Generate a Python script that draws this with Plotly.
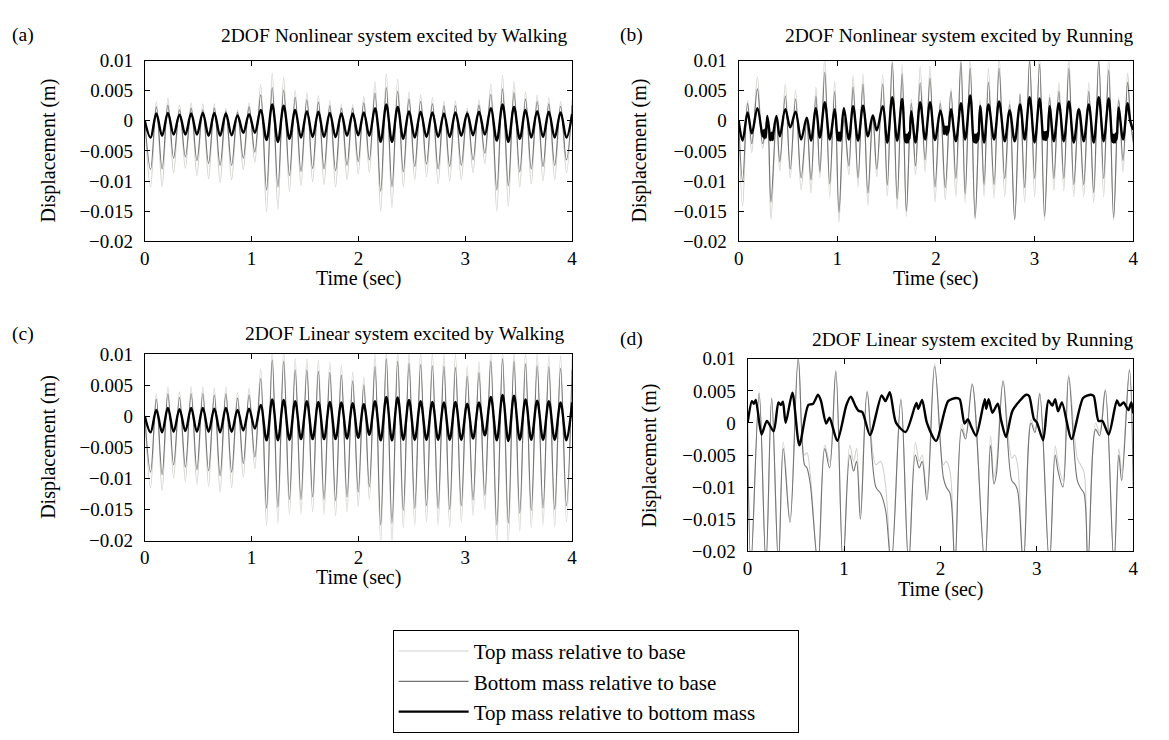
import plotly.graph_objects as go

# ---------------- data (displacements in mm, times in s) ----------------
# walking excitation: times of successive troughs / peaks (shared by panels a and c)
walk_trough_t = [0.054, 0.162, 0.270, 0.380, 0.488, 0.597, 0.705, 0.813, 0.922, 1.030,
                 1.140, 1.246, 1.354, 1.462, 1.571, 1.678, 1.786, 1.893, 1.998, 2.102,
                 2.208, 2.314, 2.420, 2.527, 2.637, 2.746, 2.854, 2.963, 3.073, 3.183,
                 3.295, 3.403, 3.510, 3.618, 3.728, 3.837, 3.947]
walk_peak_t = [0.108, 0.216, 0.325, 0.434, 0.543, 0.651, 0.759, 0.868, 0.976, 1.085,
               1.193, 1.300, 1.408, 1.517, 1.625, 1.732, 1.840, 1.946, 2.050, 2.155,
               2.261, 2.367, 2.473, 2.582, 2.692, 2.800, 2.908, 3.018, 3.128, 3.239,
               3.349, 3.456, 3.564, 3.673, 3.782, 3.892, 4.000]

# (a) nonlinear / walking
a_top_trough = [-11.0, -11.0, -8.6, -7.9, -9.1, -9.6, -10.3, -9.8, -8.1, -6.9,
                -15.1, -14.7, -11.7, -10.8, -10.1, -10.6, -11.0, -9.8, -8.9, -8.6,
                -15.1, -14.4, -11.0, -9.8, -9.3, -10.5, -10.0, -9.8, -8.6, -7.1,
                -15.0, -14.2, -11.0, -10.5, -10.0, -9.8, -8.6]
a_top_peak = [3.2, 3.8, 2.6, 3.0, 2.8, 2.8, 2.1, 1.8, 3.0, 6.0,
              7.9, 7.2, 5.0, 4.7, 4.2, 3.4, 2.8, 2.7, 4.0, 6.5,
              7.8, 6.9, 4.8, 4.3, 3.8, 3.3, 3.3, 2.1, 3.5, 6.1,
              7.5, 6.5, 4.8, 4.3, 3.8, 3.2, 3.5]
a_bot_trough = [-8.1, -8.0, -6.2, -6.0, -6.6, -7.1, -7.4, -7.4, -6.2, -5.2,
                -11.5, -11.0, -9.1, -8.4, -7.9, -8.0, -8.3, -7.4, -6.8, -6.5,
                -11.7, -11.0, -8.5, -7.6, -7.2, -8.0, -7.6, -7.4, -6.5, -5.4,
                -11.5, -10.8, -8.5, -8.0, -7.6, -7.4, -6.5]
a_bot_peak = [2.3, 2.6, 1.8, 2.1, 1.8, 2.1, 1.6, 1.4, 2.3, 4.3,
              5.5, 5.1, 3.9, 3.5, 3.1, 2.5, 2.1, 2.1, 3.0, 4.6,
              5.5, 4.9, 3.6, 3.2, 2.8, 2.5, 2.5, 1.6, 2.6, 4.4,
              5.3, 4.7, 3.6, 3.2, 2.8, 2.4, 2.6]
a_rel_trough = [-2.8, -2.5, -2.3, -2.3, -2.3, -2.5, -2.5, -2.4, -2.0, -2.0,
                -3.2, -3.5, -3.0, -2.8, -2.7, -2.7, -2.7, -2.5, -2.4, -2.5,
                -3.5, -3.5, -3.0, -2.8, -2.7, -2.7, -2.7, -2.5, -2.4, -2.3,
                -3.3, -3.5, -3.0, -2.8, -2.7, -2.8, -2.8]
a_rel_peak = [1.2, 1.3, 1.0, 1.2, 1.3, 1.3, 1.2, 0.9, 1.1, 1.8,
              2.7, 2.5, 1.8, 1.6, 1.5, 1.3, 1.2, 1.2, 1.4, 2.1,
              2.7, 2.3, 1.6, 1.5, 1.4, 1.2, 1.4, 1.2, 1.5, 2.1,
              2.7, 2.3, 1.8, 1.6, 1.5, 1.4, 1.1]

# (c) linear / walking
c_top_trough = [-11.5, -12.0, -10.0, -10.5, -11.0, -11.3, -12.3, -11.5, -9.8, -8.5,
                -17.5, -17.2, -15.8, -15.8, -15.4, -15.8, -16.0, -15.4, -14.5, -13.5,
                -20.5, -20.5, -18.0, -17.5, -17.0, -17.5, -17.8, -17.0, -16.0, -15.0,
                -20.5, -20.5, -18.5, -18.0, -17.5, -17.8, -17.0]
c_top_peak = [3.6, 4.7, 3.9, 4.7, 4.7, 4.5, 4.7, 3.8, 4.5, 7.6,
              10.5, 10.5, 9.2, 9.2, 9.0, 8.7, 8.2, 7.1, 6.3, 10.0,
              10.5, 10.5, 10.4, 10.3, 10.2, 10.1, 10.0, 8.0, 8.8, 10.5,
              10.5, 10.5, 10.3, 10.1, 9.8, 9.7, 9.5]
c_bot_trough = [-9.0, -9.4, -7.8, -8.2, -8.6, -8.8, -9.6, -9.0, -7.6, -6.6,
                -14.8, -14.6, -13.4, -13.4, -13.0, -13.4, -13.6, -13.0, -12.2, -11.4,
                -17.5, -17.2, -15.2, -14.8, -14.4, -14.8, -15.0, -14.4, -13.5, -12.7,
                -17.5, -17.2, -15.6, -15.2, -14.8, -15.0, -14.4]
c_bot_peak = [2.7, 3.6, 3.0, 3.6, 3.6, 3.4, 3.6, 2.9, 3.4, 6.0,
              9.0, 8.8, 7.4, 7.4, 7.2, 7.0, 6.6, 5.7, 5.0, 8.0,
              9.2, 8.8, 8.5, 8.3, 8.1, 8.0, 7.8, 6.4, 7.0, 8.8,
              9.2, 8.8, 8.4, 8.1, 7.9, 7.7, 7.5]
c_rel_trough = [-2.6, -2.6, -2.5, -2.4, -2.5, -2.5, -2.6, -2.5, -2.3, -2.0,
                -3.9, -3.9, -3.8, -3.7, -3.7, -3.7, -3.7, -3.6, -3.5, -3.0,
                -3.9, -3.9, -3.8, -3.8, -3.8, -3.8, -3.8, -3.8, -3.6, -3.1,
                -3.9, -4.0, -3.8, -3.8, -3.8, -3.8, -3.9]
c_rel_peak = [1.0, 1.3, 1.1, 1.3, 1.3, 1.2, 1.3, 1.0, 1.2, 1.8,
              2.7, 2.6, 2.4, 2.4, 2.3, 2.3, 2.2, 2.1, 1.9, 2.4,
              3.1, 3.0, 2.6, 2.4, 2.3, 2.2, 2.3, 2.0, 2.2, 3.1,
              3.4, 3.3, 2.7, 2.5, 2.4, 2.2, 2.2]

# (b) nonlinear / running : successive extrema
b_t = [0, .04, .09, .133, .19, .243, .29, .327, .383, .417, .473, .523, .577, .633, .69,
       .733, .783, .823, .873, .923, .973, 1.017, 1.067, 1.117, 1.16, 1.21, 1.26, 1.31,
       1.36, 1.4, 1.46, 1.507, 1.557, 1.607, 1.657, 1.7, 1.75, 1.793, 1.84, 1.89, 1.94,
       1.99, 2.044, 2.094, 2.152, 2.202, 2.253, 2.296, 2.347, 2.397, 2.448, 2.488, 2.532,
       2.589, 2.64, 2.697, 2.747, 2.798, 2.852, 2.899, 2.949, 3.0, 3.05, 3.101, 3.152,
       3.195, 3.246, 3.296, 3.347, 3.397, 3.448, 3.498, 3.549, 3.599, 3.65, 3.7, 3.751,
       3.801, 3.852, 3.896, 3.943, 3.97, 4.0]
b_top = [0, -14.2, 3.4, -5.3, 7.3, -4.6, 0.6, -16.4, 0.4, -8.3, 6.1, -9.5, 5.1, -11.5, -0.3,
         -12.0, 5.6, -9.5, 10.8, -12.7, 6.6, -16.9, 0.6, -9.0, 7.6, -11.0, 7.8, -14.0,
         1.1, -9.3, 7.6, -12.5, 10.8, -14.7, 9.3, -15.9, 3.6, -9.0, 9.1, -8.5, 9.1,
         -13.5, 3.4, -13.1, 5.4, -12.6, 10.8, -13.6, 10.4, -16.4, 3.4, -12.6, 8.7,
         -12.9, 10.8, -12.6, 3.4, -16.6, 4.7, -13.6, 10.8, -12.6, 10.8, -16.6, 4.4,
         -11.6, 6.4, -11.6, 10.8, -12.6, 2.4, -12.6, 6.4, -13.6, 10.8, -12.6, 10.8,
         -16.6, 3.9, -8.6, 7.9, 0.9, -4.0]
b_bot = [0, -10.0, 2.9, -3.8, 5.3, -3.8, 0.4, -13.5, 0.4, -6.8, 4.1, -8.0, 3.6, -9.5, -0.3,
         -9.8, 4.1, -8.5, 8.1, -10.5, 4.9, -15.2, 0.4, -7.5, 5.6, -9.5, 6.1, -12.0,
         0.9, -8.0, 6.1, -10.7, 9.6, -13.0, 7.8, -15.0, 2.9, -7.5, 6.3, -6.5, 7.1,
         -11.0, 2.9, -11.1, 4.9, -9.6, 9.7, -12.1, 8.7, -16.1, 2.7, -10.6, 6.4,
         -10.6, 8.7, -9.6, 2.7, -16.4, 4.4, -11.1, 9.9, -9.6, 9.4, -15.9, 3.9,
         -9.6, 4.9, -9.6, 8.7, -10.6, 1.9, -10.6, 4.9, -11.9, 9.9, -9.6, 8.4,
         -16.1, 3.4, -6.6, 6.4, 0.4, -3.5]
b_rel = [0, -3.3, 1.4, -2.1, 2.1, -2.6, 0.8, -3.1, 0.8, -2.6, 1.9, -1.1, 1.5, -3.1, 0.5,
         -3.3, 2.1, -2.8, 3.1, -3.1, 1.9, -3.3, 2.1, -3.1, 2.4, -3.3, 2.5, -2.6,
         0.9, -1.6, 2.4, -3.6, 3.9, -3.3, 3.6, -3.6, 1.6, -3.6, 3.1, -3.1, 3.1,
         -3.2, 1.7, -2.1, 1.9, -3.4, 2.9, -3.1, 4.2, -3.6, 2.4, -3.6, 2.7,
         -3.1, 3.2, -3.4, 1.7, -3.4, 2.7, -3.1, 3.9, -3.6, 3.7, -3.1, 2.4,
         -3.4, 2.9, -3.4, 3.2, -3.6, 1.9, -3.4, 2.7, -3.6, 3.9, -3.4, 3.7,
         -3.6, 2.2, -3.1, 2.9, -0.1, -1.5]
# extra short chatter (impact) wiggles of the relative trace in panel (b)
b_rel_chatter_t = [.252, .26, .268, .276, .312, .32, .336, .344, .352,
                   .995, 1.003, 1.01, 1.025, 1.033, 1.042,
                   1.68, 1.688, 1.694, 1.708, 1.716, 1.725, 1.733,
                   2.075, 2.083, 2.088, 2.102, 2.11, 2.118, 2.126,
                   2.375, 2.383, 2.39, 2.405, 2.413, 2.421, 2.43,
                   3.08, 3.088, 3.094, 3.108, 3.116, 3.124, 3.132,
                   3.78, 3.788, 3.794, 3.808, 3.816, 3.824, 3.833]
b_rel_chatter = [-1.6, -2.9, -1.5, -2.8, -1.9, -3.2, -2.0, -3.2, -2.1,
                 -1.8, -3.2, -2.0, -2.0, -3.3, -1.9,
                 -2.2, -3.5, -2.3, -2.3, -3.6, -2.0, -3.0,
                 -0.8, -2.2, -1.0, -1.0, -2.3, -1.0, -2.0,
                 -2.2, -3.5, -2.3, -2.3, -3.6, -2.1, -3.2,
                 -1.8, -3.1, -1.9, -1.9, -3.2, -1.8, -2.8,
                 -2.2, -3.5, -2.3, -2.3, -3.6, -2.1, -3.1]

# (d) linear / running : gray traces share these knot times
d_t = [0, .035, .12, .19, .25, .32, .37, .44, .525, .59, .615, .65, .73, .80, .85, .915,
       .99, 1.06, 1.10, 1.13, 1.17, 1.24, 1.33, 1.38, 1.43, 1.49, 1.59, 1.67, 1.74, 1.78,
       1.81, 1.86, 1.94, 2.03, 2.06, 2.10, 2.15, 2.22, 2.26, 2.33, 2.46, 2.52, 2.555,
       2.58, 2.65, 2.74, 2.77, 2.80, 2.86, 2.94, 2.98, 3.03, 3.13, 3.19, 3.22, 3.27,
       3.33, 3.42, 3.46, 3.49, 3.53, 3.61, 3.65, 3.71, 3.80, 3.85, 3.88, 3.96, 4.0]
d_top = [0, -22, 4.9, -22, 4.0, -22, -3.0, -14.8, 10.5, -5.0, -4.6, -8.0, -22, -3.5, -6.0,
         8.3, -22, -3.5, -6.0, -4.0, -14.0, 5.0, -6.5, -6.0, -9.6, -22, 3.8, -22, -3.0,
         -6.0, -5.0, -11.0, 9.3, -6.5, -6.0, -7.6, -22, -0.2, -2.0, 6.2, -22, -2.0,
         -8.5, -6.5, 6.7, -5.5, -5.0, -6.5, -22, 0.5, -1.0, 4.7, -22, -3.6, -6.2,
         -9.0, 7.5, -5.5, -6.7, -7.7, -22, 0.0, -1.5, 5.3, -22, -4.0, -7.5, 8.5, -6.0]
d_bot = [0, -22, 4.6, -22, 3.8, -22, -4.0, -15.5, 10.0, -6.5, -7.0, -9.5, -22, -4.0, -7.0,
         8.0, -22, -5.0, -7.5, -6.0, -15.0, 4.8, -10.0, -11.0, -13.5, -22, 3.6, -22,
         -5.0, -7.0, -6.0, -12.0, 8.8, -8.5, -10.0, -11.0, -22, -1.0, -2.5, 6.0, -22,
         -3.5, -9.5, -8.0, 6.5, -9.0, -9.5, -10.5, -22, 0.0, -1.5, 4.5, -22, -5.0,
         -7.5, -10.0, 7.2, -9.0, -10.3, -11.0, -22, -1.0, -2.0, 5.0, -22, -5.0, -9.0,
         8.2, -10.0]
d_rel_t = [0, .045, .065, .085, .145, .2, .27, .32, .345, .366, .395, .465, .537, .63, .68,
           .73, .76, .815, .85, .93, 1.025, 1.07, 1.085, 1.12, 1.15, 1.19, 1.27, 1.39,
           1.43, 1.475, 1.54, 1.64, 1.75, 1.77, 1.81, 1.86, 1.955, 2.08, 2.165, 2.2,
           2.25, 2.285, 2.32, 2.37, 2.46, 2.475, 2.5, 2.54, 2.595, 2.63, 2.68, 2.75,
           2.89, 2.92, 2.97, 3.0, 3.065, 3.12, 3.16, 3.19, 3.22, 3.26, 3.36, 3.48, 3.56,
           3.59, 3.64, 3.68, 3.745, 3.83, 3.86, 3.9, 3.95, 3.98, 4.0]
d_rel = [0, 3.4, 3.0, 3.6, -1.8, 0.3, -1.3, 3.2, 2.8, 3.3, 0.0, 4.7, -3.5, 2.8, 3.0, 4.4,
         3.5, -0.1, 0.8, -2.8, 2.8, 4.1, 3.8, 2.6, 1.9, 1.7, -1.9, 4.3, 3.4, 4.8, 0.0,
         -1.4, 3.1, 2.2, 3.6, 0.0, -2.8, 3.4, 3.9, 3.7, -0.1, 0.6, -0.6, -2.0, 3.7, 2.2,
         3.7, 1.6, 3.0, 0.4, -2.2, 2.0, 4.4, 4.2, 0.6, 0.1, -2.7, 3.5, 2.7, 3.7, 1.8,
         3.2, -2.5, 3.9, 4.4, 4.2, 0.3, 0.3, -1.8, 3.5, 2.7, 3.2, 2.0, 3.2, 1.5]

panel_titles = ["2DOF Nonlinear system excited by Walking",
                "2DOF Nonlinear system excited by Running",
                "2DOF Linear system excited by Walking",
                "2DOF Linear system excited by Running"]
panel_tags = ["(a)", "(b)", "(c)", "(d)"]
series_names = ["Top mass relative to base", "Bottom mass relative to base",
                "Top mass relative to bottom mass"]
y_tickvals = [0.01, 0.005, 0, -0.005, -0.01, -0.015, -0.02]
y_ticktext = ["0.01", "0.005", "0", "\u22120.005", "\u22120.01", "\u22120.015", "\u22120.02"]
x_tickvals = [0, 1, 2, 3, 4]
x_ticktext = ["0", "1", "2", "3", "4"]

# ---------------- helpers ----------------
def interleave(troughs, peaks):
    out = [0.0]
    for a, b in zip(troughs, peaks):
        out += [a, b]
    return out

def to_m(vals):
    return [v / 1000.0 for v in vals]

def merge(t1, v1, t2, v2):
    pts = sorted(zip(list(t1) + list(t2), list(v1) + list(v2)))
    return [p[0] for p in pts], [p[1] for p in pts]

walk_t = interleave(walk_trough_t, walk_peak_t)
b_rel_all_t, b_rel_all = merge(b_t, b_rel, b_rel_chatter_t, b_rel_chatter)

W, H = 1169, 740
FONT = "Liberation Serif, Times New Roman, serif"
C_TOP = "#d0d0cb"
C_BOT = "#747474"
C_REL = "#000000"

# panel layout in pixels
boxes = [(141, 572, 52, 238), (740, 1138, 52, 238),
         (141, 572, 354, 546), (749, 1138, 359, 557)]
title_y = [26, 26, 333, 339]
title_right = [570, 1140, 566, 1140]
tag_x = [18, 632, 18, 632]
ylab_x = [44, 640, 44, 650]
time_dy = [38, 38, 38, 39]

panels = [
    (walk_t, interleave(a_top_trough, a_top_peak), walk_t, interleave(a_bot_trough, a_bot_peak),
     walk_t, interleave(a_rel_trough, a_rel_peak)),
    (b_t, b_top, b_t, b_bot, b_rel_all_t, b_rel_all),
    (walk_t, interleave(c_top_trough, c_top_peak), walk_t, interleave(c_bot_trough, c_bot_peak),
     walk_t, interleave(c_rel_trough, c_rel_peak)),
    (d_t, d_top, d_t, d_bot, d_rel_t, d_rel),
]

def txt(text, x, y, size=20, angle=0, xanchor="center"):
    return dict(text=text, x=x / W, y=1 - y / H, xref="paper", yref="paper",
                showarrow=False, xanchor=xanchor, yanchor="middle", textangle=angle,
                font=dict(family=FONT, size=size, color="black"))

fig = go.Figure()
annotations = []
pad = "\u00a0" * 7
for i, (tx, ty, bx, by, rx, ry) in enumerate(panels):
    k = "" if i == 0 else str(i + 1)
    xa, ya = "x" + k, "y" + k
    l, r, t, b = boxes[i]
    show = (i == 0)
    fig.add_trace(go.Scatter(x=tx, y=to_m(ty), xaxis=xa, yaxis=ya, mode="lines",
                             line=dict(color=C_TOP, width=1.1, shape="spline", smoothing=1.0),
                             name=series_names[0] + pad, legendgroup="g1",
                             showlegend=show, hoverinfo="skip"))
    fig.add_trace(go.Scatter(x=bx, y=to_m(by), xaxis=xa, yaxis=ya, mode="lines",
                             line=dict(color=C_BOT, width=1.1, shape="spline", smoothing=1.0),
                             name=series_names[1] + pad, legendgroup="g2",
                             showlegend=show, hoverinfo="skip"))
    fig.add_trace(go.Scatter(x=rx, y=to_m(ry), xaxis=xa, yaxis=ya, mode="lines",
                             line=dict(color=C_REL, width=2.4, shape="spline",
                                       smoothing=1.0 if i != 3 else 0.7),
                             name=series_names[2] + pad, legendgroup="g3",
                             showlegend=show, hoverinfo="skip"))
    axcommon = dict(showgrid=False, zeroline=False, showline=True, linecolor="black",
                    linewidth=1, mirror="ticks", ticks="inside", ticklen=5, tickcolor="black",
                    tickfont=dict(family=FONT, size=19, color="black"), fixedrange=True)
    fig.update_layout(**{
        "xaxis" + k: dict(domain=[l / W, r / W], anchor=ya, range=[0, 4],
                          tickvals=x_tickvals, ticktext=x_ticktext, ticklabelstandoff=0,
                          **axcommon),
        "yaxis" + k: dict(domain=[1 - b / H, 1 - t / H], anchor=xa, range=[-0.02, 0.01],
                          tickvals=y_tickvals, ticktext=y_ticktext, ticklabelstandoff=7,
                          **axcommon),
    })
    cx = (l + r) / 2
    annotations += [
        txt(panel_titles[i], title_right[i], title_y[i], size=19.5, xanchor="right"),
        txt(panel_tags[i], tag_x[i], title_y[i], size=19.5),
        txt("Time (sec)", cx, b + time_dy[i]),
        txt("Displacement (m)", ylab_x[i], (t + b) / 2, angle=-90),
    ]

fig.update_layout(
    width=W, height=H, autosize=False,
    margin=dict(l=0, r=0, t=0, b=0),
    paper_bgcolor="white", plot_bgcolor="white",
    annotations=annotations,
    legend=dict(x=391 / W, y=1 - 638 / H, xanchor="left", yanchor="top",
                bordercolor="black", borderwidth=1, bgcolor="white",
                font=dict(family=FONT, size=21, color="black"), itemwidth=70,
                tracegroupgap=5, traceorder="normal"),
)
fig.write_html("out.html", config={"displayModeBar": False},
               post_script="document.body.style.margin='0px';")
